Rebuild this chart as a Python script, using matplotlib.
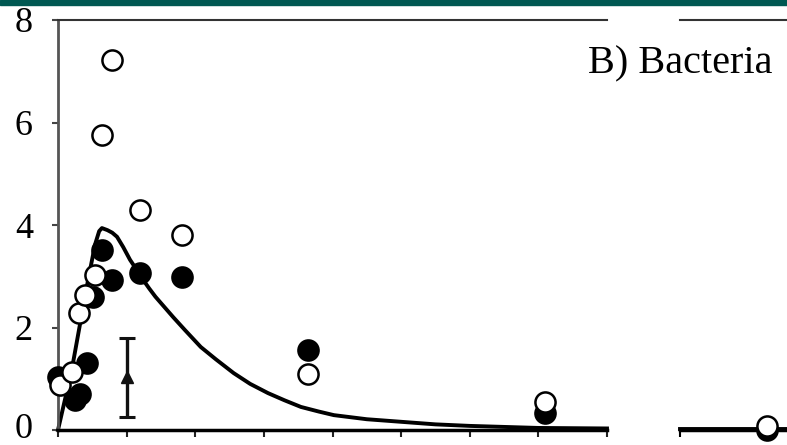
import numpy as np
import matplotlib.pyplot as plt
from matplotlib.patches import Rectangle
from matplotlib.transforms import ScaledTranslation

# open circles (x, y)
open_x = [0.03, 0.20, 0.30, 0.39, 0.54, 0.64, 0.79, 1.20, 1.81, 3.64, 7.09]
open_y = [0.88, 1.13, 2.28, 2.63, 3.02, 5.76, 7.22, 4.29, 3.80, 1.09, 0.55]
# filled circles
fill_x = [0.00, 0.25, 0.32, 0.42, 0.51, 0.64, 0.79, 1.20, 1.81, 3.64, 7.09]
fill_y = [1.03, 0.58, 0.70, 1.31, 2.60, 3.51, 2.93, 3.06, 2.99, 1.56, 0.33]
# triangle with error bar
tri_x, tri_y = 1.0, 1.03
tri_lo, tri_hi = 0.25, 1.79
# model curve
curve_x = [0, 0.2, 0.42, 0.54, 0.60, 0.64, 0.72, 0.79, 0.86, 0.95, 1.05, 1.15,
           1.24, 1.33, 1.42, 1.55, 1.68, 1.85, 2.08, 2.3, 2.56, 2.8, 3.06, 3.3,
           3.54, 3.8, 4.02, 4.5, 5.0, 5.5, 6.0, 7.0, 8.0]
curve_y = [0, 1.17, 2.8, 3.62, 3.88, 3.94, 3.9, 3.85, 3.77, 3.57, 3.32, 3.12,
           2.93, 2.76, 2.6, 2.4, 2.2, 1.95, 1.62, 1.38, 1.11, 0.9, 0.72, 0.58,
           0.45, 0.36, 0.29, 0.21, 0.16, 0.11, 0.08, 0.04, 0.03]
# right part of broken axis
right_open_x, right_open_y = [13.27], [0.08]
right_fill_x, right_fill_y = [13.27], [0.0]
right_curve_x = [12.0, 13.6]
right_curve_y = [0.02, 0.02]

W, H = 787, 445
fig = plt.figure(figsize=(W / 100, H / 100), dpi=100)
fig.patches.append(Rectangle((0, 1 - 5 / H), 1, 5 / H, transform=fig.transFigure,
                             color='#005852', zorder=0))

bottom = (H - 430) / H
height = 410 / H
ax = fig.add_axes([58 / W, bottom, 549 / W, height])
ax2 = fig.add_axes([680 / W, bottom, 107 / W, height])

serif = 'Liberation Serif'
ms = 14.5
mew = 1.8

ax.plot(curve_x, curve_y, color='black', lw=2.8, zorder=2, clip_on=False,
        solid_joinstyle='round')
ax.errorbar([tri_x], [tri_y], yerr=[[tri_y - tri_lo], [tri_hi - tri_y]], fmt='^',
            color='#111111', ms=9, elinewidth=2.4, capsize=6, capthick=2.2, zorder=3)
ax.plot(fill_x, fill_y, 'o', ms=ms, mfc='black', mec='black', mew=mew, zorder=4, clip_on=False)
ax.plot(open_x, open_y, 'o', ms=ms, mfc='white', mec='black', mew=mew, zorder=5, clip_on=False)

ax2.plot(right_curve_x, right_curve_y, color='black', lw=2.8, zorder=2, clip_on=False)
ax2.plot(right_fill_x, right_fill_y, 'o', ms=ms, mfc='black', mec='black', mew=mew, zorder=4, clip_on=False)
ax2.plot(right_open_x, right_open_y, 'o', ms=ms, mfc='white', mec='black', mew=mew, zorder=5, clip_on=False)

ax.set_xlim(0, 8)
ax.set_ylim(0, 8)
ax.set_xticks(np.arange(0, 9, 1))
ax.set_xticklabels([])
ax.set_yticks([0, 2, 4, 6, 8])
ax.set_yticklabels(['0', '2', '4', '6', '8'], fontsize=26, family=serif)
ax.tick_params(axis='y', direction='out', length=4, width=1.5, pad=14, color='#444444')
ax.tick_params(axis='x', direction='out', length=5, width=1.5, color='#222222')
ax.spines['right'].set_visible(False)
ax.spines['left'].set_color('#555555')
ax.spines['left'].set_linewidth(2)
ax.spines['top'].set_color('#333333')
ax.spines['top'].set_linewidth(1.5)
ax.spines['bottom'].set_linewidth(2.5)

# nudge the "0" label up so it stays inside the picture
zero_lbl = ax.get_yticklabels()[0]
zero_lbl.set_transform(zero_lbl.get_transform() + ScaledTranslation(0, 0.04, fig.dpi_scale_trans))

ax2.set_xlim(12, 12 + 107 / 68.6)
ax2.set_ylim(0, 8)
ax2.set_xticks([12])
ax2.set_xticklabels([])
ax2.set_yticks([])
ax2.tick_params(axis='x', direction='out', length=5, width=1.5)
ax2.spines['left'].set_visible(False)
ax2.spines['right'].set_visible(False)
ax2.spines['top'].set_color('#333333')
ax2.spines['top'].set_linewidth(1.5)
ax2.spines['bottom'].set_linewidth(2.5)

fig.text(773 / W, (H - 73) / H, 'B) Bacteria', ha='right', va='baseline',
         fontsize=29, family=serif)

fig.savefig('out.png', dpi=100)
